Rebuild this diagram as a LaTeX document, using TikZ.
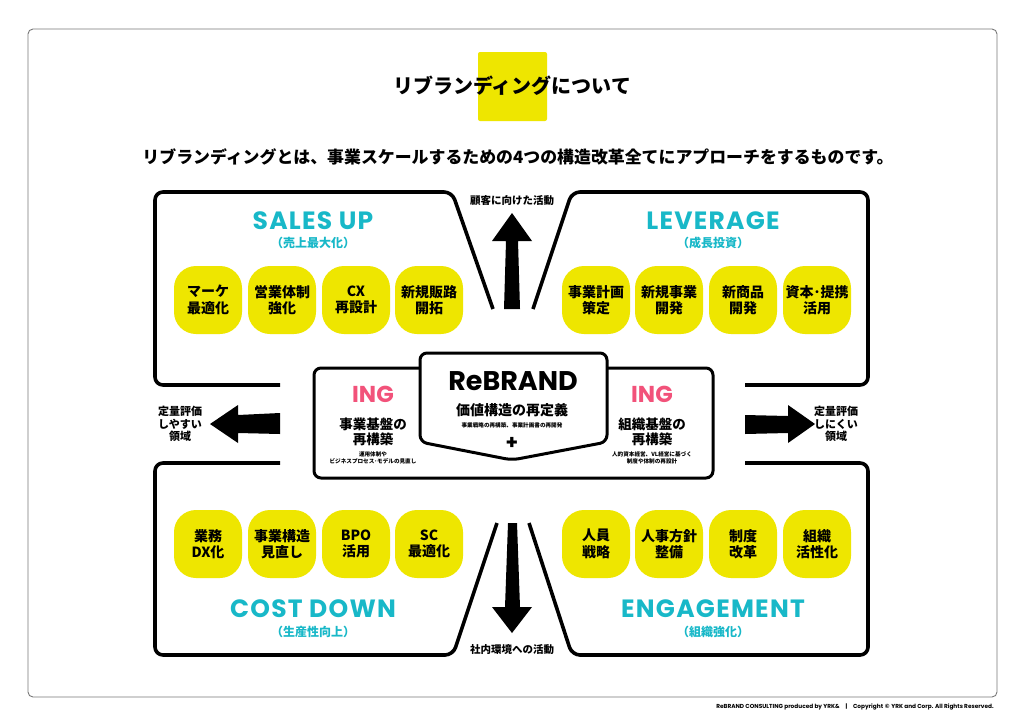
\documentclass[tikz,border=0pt]{standalone}
\usepackage{fontspec}
\setmainfont{Noto Sans CJK JP}
\newfontfamily\jp{Noto Sans CJK JP}
\newfontfamily\pop{Poppins}
\newfontfamily\popw{Poppins}[LetterSpace=5]
\newfontfamily\dvs{DejaVu Sans}
\definecolor{ryellow}{RGB}{238,230,0}
\definecolor{rteal}{RGB}{24,184,200}
\definecolor{rpink}{RGB}{242,82,122}
\definecolor{rgrayline}{RGB}{120,120,120}
\tikzset{
  panel/.style={line width=3.6pt, rounded corners=8pt, line join=round},
  pill/.style={fill=ryellow, rounded corners=22pt, minimum width=68pt, minimum height=68pt, align=center, inner sep=0pt, font=\jp\bfseries\fontsize{14}{16.5}\selectfont},
  ptitle/.style={text=rteal, font=\popw\bfseries\fontsize{25}{25}\selectfont, inner sep=0pt},
  psub/.style={text=rteal, font=\jp\bfseries\fontsize{12}{12}\selectfont, inner sep=0pt},
  arrowshape/.style={fill=black, draw=none},
  sidelabel/.style={align=center, inner sep=0pt, font=\jp\bfseries\fontsize{11}{12.5}\selectfont},
  arrowlabel/.style={inner sep=0pt, font=\jp\bfseries\fontsize{10.5}{10.5}\selectfont},
  tiny/.style={align=center, inner sep=0pt, font=\jp\bfseries\fontsize{5.6}{7}\selectfont},
  ingtxt/.style={text=rpink, font=\pop\bfseries\fontsize{23}{23}\selectfont, inner sep=0pt},
  basetxt/.style={align=center, inner sep=0pt, font=\jp\bfseries\fontsize{13.5}{15}\selectfont},
}
\begin{document}
\begin{tikzpicture}[x=1pt,y=-1pt]
\useasboundingbox (0,0) rectangle (1024,726);
\fill[white] (0,0) rectangle (1024,726);
% outer frame
\draw[rgrayline, line width=0.9pt, rounded corners=5pt] (28,29) rectangle (997,697);
% title
\fill[ryellow, rounded corners=2pt] (478,52) rectangle (547,121);
\node[inner sep=0pt, font=\jp\bfseries\fontsize{20}{20}\selectfont] (title) at (512,86) {リブランディングについて};
\node[inner sep=0pt, font=\jp\bfseries\fontsize{16.9}{16.9}\selectfont] (subtitle) at (518,157) {リブランディングとは、事業スケールするための4つの構造改革全てにアプローチをするものです。};
% panels
\draw[panel] (280,385) -- (155,385) -- (155,192) -- (452,192) -- (493,309);
\draw[panel] (533,309) -- (572,192) -- (868,192) -- (868,385) -- (745,385);
\draw[panel] (280,463) -- (155,463) -- (155,655) -- (453,655) -- (497,523);
\draw[panel] (529,523) -- (572,655) -- (868,655) -- (868,463) -- (745,463);
% arrows
\fill[arrowshape] (504,309) -- (506,241) -- (492,241) -- (512,213) -- (532,241) -- (518,241) -- (520,309) -- cycle;
\fill[arrowshape] (508,523) -- (505,607) -- (492,607) -- (512,633) -- (532,607) -- (520,607) -- (517,523) -- cycle;
\fill[arrowshape] (280,413) -- (238,415) -- (238,405) -- (210,424) -- (238,443) -- (238,433) -- (280,434) -- cycle;
\fill[arrowshape] (745,415) -- (788,416) -- (788,405) -- (815,424) -- (788,443) -- (788,433) -- (745,434) -- cycle;
\node[arrowlabel] (lblup) at (512,201) {顧客に向けた活動};
\node[arrowlabel] (lbldown) at (512,650) {社内環境への活動};
\node[sidelabel] (lblleft) at (180,424) {定量評価\\しやすい\\領域};
\node[sidelabel] (lblright) at (836,424) {定量評価\\しにくい\\領域};
% panel titles
\node[ptitle] (t1) at (313,221) {SALES UP};
\node[psub] (s1) at (313,243) {（売上最大化）};
\node[ptitle] (t2) at (713,221) {LEVERAGE};
\node[psub] (s2) at (713,243) {（成長投資）};
\node[ptitle] (t3) at (313,609) {COST DOWN};
\node[psub] (s3) at (313,632) {（生産性向上）};
\node[ptitle] (t4) at (713,609) {ENGAGEMENT};
\node[psub] (s4) at (713,632) {（組織強化）};
% pills
\node[pill] (a1) at (208,300) {マーケ\\最適化};
\node[pill] (a2) at (282,300) {営業体制\\強化};
\node[pill] (a3) at (356,300) {CX\\再設計};
\node[pill] (a4) at (429,300) {新規販路\\開拓};
\node[pill] (b1) at (596,300) {事業計画\\策定};
\node[pill] (b2) at (669,300) {新規事業\\開発};
\node[pill] (b3) at (743,300) {新商品\\開発};
\node[pill] (b4) at (817,300) {資本･提携\\活用};
\node[pill] (c1) at (208,544) {業務\\DX化};
\node[pill] (c2) at (282,544) {事業構造\\見直し};
\node[pill] (c3) at (356,544) {BPO\\活用};
\node[pill] (c4) at (429,544) {SC\\最適化};
\node[pill] (d1) at (596,544) {人員\\戦略};
\node[pill] (d2) at (669,544) {人事方針\\整備};
\node[pill] (d3) at (743,544) {制度\\改革};
\node[pill] (d4) at (817,544) {組織\\活性化};
% central boxes
\draw[fill=white, line width=3pt, rounded corners=7pt] (314,368) rectangle (713,478);
\draw[fill=white, line width=3pt, rounded corners=7pt, line join=round] (420,442) -- (420,353) -- (607,353) -- (607,442) -- (512,460) -- cycle;
\node[inner sep=0pt, font=\pop\bfseries\fontsize{27}{27}\selectfont] (rebrand) at (513,381) {ReBRAND};
\node[inner sep=0pt, font=\jp\bfseries\fontsize{14}{14}\selectfont] (kachi) at (512,410) {価値構造の再定義};
\node[tiny] (kachisub) at (512,425) {事業戦略の再構築、事業計画書の再開発};
\node[inner sep=0pt, font=\pop\bfseries\fontsize{20}{20}\selectfont] (plus) at (512,443) {+};
\node[ingtxt] (ing1) at (373,394) {ING};
\node[basetxt] (base1) at (373,432) {事業基盤の\\再構築};
\node[tiny] (base1sub) at (373,458) {運用体制や\\ビジネスプロセス･モデルの見直し};
\node[ingtxt] (ing2) at (652,394) {ING};
\node[basetxt] (base2) at (652,432) {組織基盤の\\再構築};
\node[tiny] (base2sub) at (652,458) {人的資本経営、VL経営に基づく\\制度や体制の再設計};
% footer
\node[inner sep=0pt, font=\pop\bfseries\fontsize{5.8}{6.5}\selectfont] (footer) at (855,707) {ReBRAND CONSULTING produced by YRK\&\quad|\quad Copyright {\dvs\bfseries ©} YRK and Corp. All Rights Reserved.};
\end{tikzpicture}
\end{document}
